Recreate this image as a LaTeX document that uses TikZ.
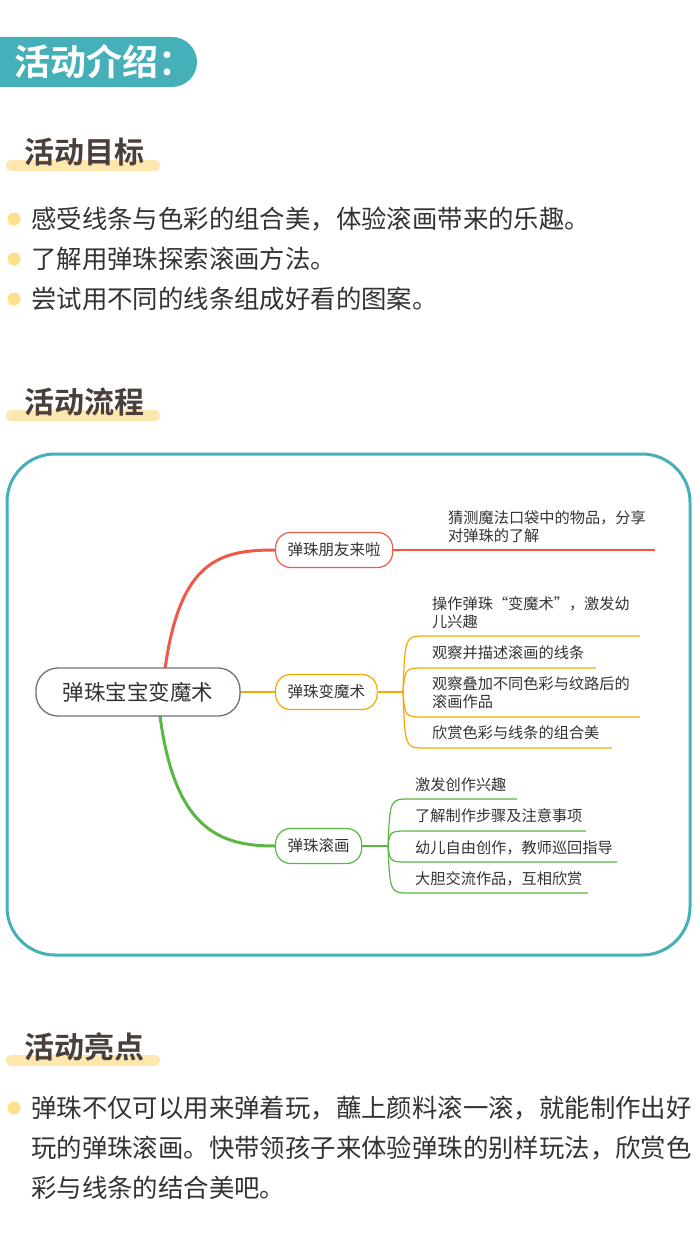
\documentclass[tikz,border=0pt]{standalone}
\usepackage{fontspec}
\newfontfamily\cjk{Noto Sans CJK SC}
\newfontfamily\cjkb{Noto Sans CJK SC Bold}
\definecolor{tealA}{RGB}{69,176,184}
\definecolor{barY}{RGB}{253,231,174}
\definecolor{dotY}{RGB}{252,224,138}
\definecolor{tdark}{RGB}{74,63,59}
\definecolor{tbody}{RGB}{51,51,51}
\definecolor{cred}{RGB}{240,88,74}
\definecolor{corg}{RGB}{247,168,0}
\definecolor{cgrn}{RGB}{90,184,64}
\definecolor{cgray}{RGB}{106,112,128}
\begin{document}
\begin{tikzpicture}[x=1pt,y=-1pt,
  sectitle/.style={anchor=west,inner sep=0,font=\cjkb\fontsize{30}{30}\selectfont,text=tdark},
  body/.style={anchor=west,inner sep=0,font=\cjk\fontsize{25.4}{25.4}\selectfont,text=tbody},
  br/.style={draw=#1,line width=1.2pt,rounded corners=15pt,minimum height=35pt,inner xsep=12pt,font=\cjk\fontsize{15.5}{15.5}\selectfont,text=tbody,fill=white},
  rootst/.style={draw=cgray,line width=1.3pt,rounded corners=22pt,minimum width=204pt,minimum height=48pt,font=\cjk\fontsize{21.5}{21.5}\selectfont,text=tbody,fill=white},
  leaf/.style={anchor=west,inner sep=0,font=\cjk\fontsize{15.2}{18}\selectfont,text=tbody,align=left},
  lk/.style={draw=#1,line width=1.2pt},
  barst/.style={fill=barY,rounded corners=5pt}]
\useasboundingbox (0,0) rectangle (700,1238);
\fill[white] (0,0) rectangle (700,1238);
% header
\fill[tealA,rounded corners=25pt] (-40,37) rectangle (197,87);
\node[anchor=west,inner sep=0,text=white,font=\cjkb\fontsize{36}{36}\selectfont] (hd) at (14,62) {活动介绍：};
% section 1
\path[barst] (6,160) rectangle (160,171);
\node[sectitle] (s1) at (24,152) {活动目标};
\foreach \yy/\tt [count=\i] in {219/感受线条与色彩的组合美，体验滚画带来的乐趣。,259/了解用弹珠探索滚画方法。,299/尝试用不同的线条组成好看的图案。}{
  \fill[dotY] (14,\yy) circle (6.5);
  \node[body] (b\i) at (31,\yy) {\tt};
}
% section 2
\path[barst] (6,410) rectangle (160,421);
\node[sectitle] (s2) at (24,402) {活动流程};
\draw[tealA,line width=3pt,rounded corners=48pt] (7,454) rectangle (690,955);
% mind map
\coordinate (root) at (138,692);
\coordinate (n1w) at (275,550);
\coordinate (n2w) at (275,692);
\coordinate (n3w) at (275,846);
\draw[cred,line width=3pt] (165,669) .. controls (180,560) and (220,550) .. (n1w);
\draw[corg,line width=2.5pt] (240,692) -- (n2w);
\draw[cgrn,line width=3pt] (160,716) .. controls (175,830) and (220,846) .. (n3w);
\node[rootst] (rt) at (root) {弹珠宝宝变魔术};
\node[br=cred,anchor=west] (n1) at (n1w) {弹珠朋友来啦};
\node[br=corg,anchor=west] (n2) at (n2w) {弹珠变魔术};
\node[br=cgrn,anchor=west] (n3) at (n3w) {弹珠滚画};
% red leaf
\coordinate (r1e) at (655,550);
\draw[lk=cred] (n1.east) -- (r1e);
\node[leaf] (l1) at (448,527) {猜测魔法口袋中的物品，分享\\对弹珠的了解};
% orange leaves
\coordinate (of) at (403,692);
\draw[lk=corg] (n2.east) -- (of);
\foreach \yy/\xe [count=\i] in {636/640,668/596,717/640,748/612}{
  \coordinate (os\i) at (425,\yy);
  \coordinate (oe\i) at (\xe,\yy);
  \draw[lk=corg] (of) .. controls (405,\yy) .. (os\i) -- (oe\i);
}
\node[leaf] (o1) at (432,613) {操作弹珠“变魔术”，激发幼\\儿兴趣};
\node[leaf] (o2) at (432,653) {观察并描述滚画的线条};
\node[leaf] (o3) at (432,693) {观察叠加不同色彩与纹路后的\\滚画作品};
\node[leaf] (o4) at (432,733) {欣赏色彩与线条的组合美};
% green leaves
\coordinate (gf) at (388,846);
\draw[lk=cgrn] (n3.east) -- (gf);
\foreach \yy/\xe [count=\i] in {799/517,831/586,862/617,893/588}{
  \coordinate (gs\i) at (410,\yy);
  \coordinate (ge\i) at (\xe,\yy);
  \draw[lk=cgrn] (gf) .. controls (390,\yy) .. (gs\i) -- (ge\i);
}
\node[leaf] (g1) at (415,785) {激发创作兴趣};
\node[leaf] (g2) at (415,816) {了解制作步骤及注意事项};
\node[leaf] (g3) at (415,848) {幼儿自由创作，教师巡回指导};
\node[leaf] (g4) at (415,879) {大胆交流作品，互相欣赏};
% section 3
\path[barst] (6,1055) rectangle (160,1066);
\node[sectitle] (s3) at (24,1047) {活动亮点};
\fill[dotY] (14,1108) circle (6.5);
\node[body] (p1) at (31,1108) {弹珠不仅可以用来弹着玩，蘸上颜料滚一滚，就能制作出好};
\node[body] (p2) at (31,1148) {玩的弹珠滚画。快带领孩子来体验弹珠的别样玩法，欣赏色};
\node[body] (p3) at (31,1188) {彩与线条的结合美吧。};
\end{tikzpicture}
\end{document}
